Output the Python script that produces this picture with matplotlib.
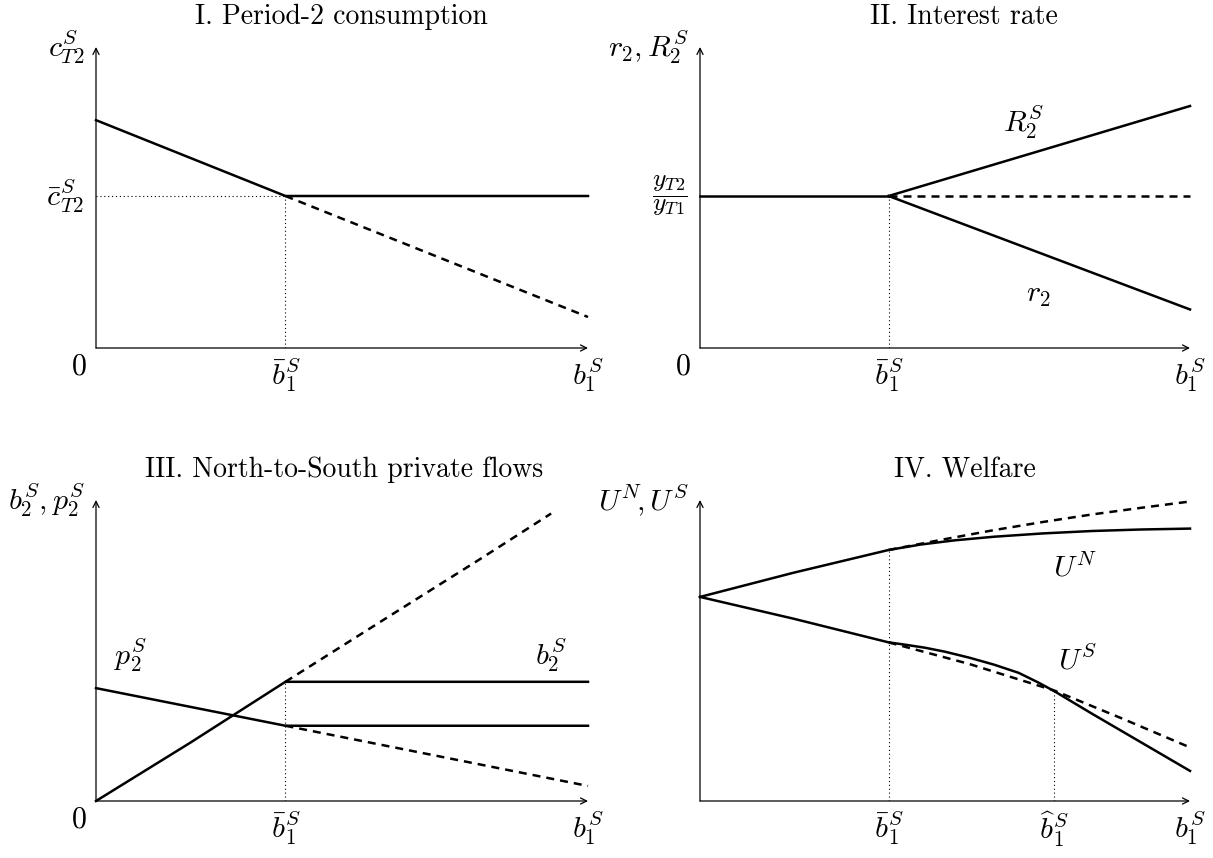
import matplotlib
matplotlib.use('Agg')
import matplotlib.pyplot as plt

plt.rcParams['mathtext.fontset'] = 'cm'
plt.rcParams['font.family'] = 'serif'
plt.rcParams['font.serif'] = ['cmr10']
plt.rcParams['axes.unicode_minus'] = False

# ---------------- data (fractions of axis length) ----------------
b1_bar = 0.385
b1_hat = 0.723

# Panel I: period-2 consumption
c_solid_x = [0.0, 0.385, 1.0]
c_solid_y = [0.757, 0.505, 0.505]
c_dash_x = [0.385, 1.0]
c_dash_y = [0.505, 0.103]
c_bar_level = 0.505

# Panel II: interest rate
rate_level = 0.505
flat_x = [0.0, 0.385]
flat_y = [0.505, 0.505]
R2_x = [0.385, 1.0]
R2_y = [0.505, 0.804]
r2_x = [0.385, 1.0]
r2_y = [0.505, 0.128]
level_dash_x = [0.385, 1.0]
level_dash_y = [0.505, 0.505]

# Panel III: private flows
b2_solid_x = [0.0, 0.19, 0.385, 1.0]
b2_solid_y = [0.0, 0.192, 0.396, 0.396]
b2_dash_x = [0.385, 0.6, 0.78, 0.925]
b2_dash_y = [0.396, 0.618, 0.803, 0.955]
p2_solid_x = [0.0, 0.385, 1.0]
p2_solid_y = [0.375, 0.25, 0.25]
p2_dash_x = [0.385, 1.0]
p2_dash_y = [0.25, 0.05]

# Panel IV: welfare
UN_solid_x = [0.0, 0.19, 0.385, 0.45, 0.52, 0.6, 0.7, 0.8, 0.9, 1.0]
UN_solid_y = [0.678, 0.758, 0.834, 0.852, 0.866, 0.878, 0.889, 0.897, 0.902, 0.905]
UN_dash_x = [0.385, 0.5, 0.6, 0.7, 0.8, 0.9, 1.0]
UN_dash_y = [0.834, 0.870, 0.900, 0.927, 0.952, 0.974, 0.995]
US_solid_x = [0.0, 0.19, 0.385, 0.42, 0.46, 0.5, 0.55, 0.6, 0.65, 0.69, 0.723, 0.8, 0.9, 1.0]
US_solid_y = [0.678, 0.606, 0.527, 0.519, 0.509, 0.496, 0.476, 0.453, 0.426, 0.394, 0.365, 0.290, 0.195, 0.100]
US_dash_x = [0.385, 0.55, 0.723, 0.86, 1.0]
US_dash_y = [0.527, 0.455, 0.367, 0.275, 0.178]

titles = ['I. Period-2 consumption', 'II. Interest rate',
          'III. North-to-South private flows', 'IV. Welfare']
ylabels = [r'$c^S_{T2}$', r'$r_2, R^S_2$', r'$b^S_2, p^S_2$', r'$U^N\!, U^S$']

# ---------------- figure ----------------
W, H = 1213, 858
fig = plt.figure(figsize=(W / 100, H / 100), dpi=100)

FS = 21.5
FT = 20
LW = 1.8
ALW = 0.9
DASH = (3.2, 2.4)
DOT = dict(color='black', lw=0.8, linestyle=(0, (1, 2.5)))


def make_ax(left, right, top, bottom):
    ax = fig.add_axes([left / W, 1 - bottom / H, (right - left) / W, (bottom - top) / H])
    ax.set_xlim(0, 1)
    ax.set_ylim(0, 1)
    ax.axis('off')
    ax.annotate('', xy=(1, 0), xytext=(0, 0),
                arrowprops=dict(arrowstyle='->', lw=ALW, shrinkA=0, shrinkB=0,
                                mutation_scale=11, color='black'))
    ax.annotate('', xy=(0, 1), xytext=(0, 0),
                arrowprops=dict(arrowstyle='->', lw=ALW, shrinkA=0, shrinkB=0,
                                mutation_scale=11, color='black'))
    return ax


def solid(ax, x, y):
    ax.plot(x, y, color='black', lw=LW, solid_joinstyle='round', clip_on=False)


def dashed(ax, x, y):
    ax.plot(x, y, color='black', lw=LW, dashes=DASH, clip_on=False)


def xlabel(ax, x, s):
    ax.annotate(s, xy=(x, 0), xytext=(0, -6), textcoords='offset points',
                ha='center', va='top', fontsize=FS)


def origin(ax):
    ax.annotate('0', xy=(0, 0), xytext=(-7, -4), textcoords='offset points',
                ha='right', va='top', fontsize=FS)


def ylab(ax, s):
    ax.annotate(s, xy=(0, 1), xytext=(-8, 0), textcoords='offset points',
                ha='right', va='center', fontsize=FS)


def title(ax, s, xc):
    ax.text(xc, 1.10, s, transform=ax.transAxes, ha='center', va='center', fontsize=FT)


panels = [
    (96, 588, 47, 348),
    (700, 1190, 47, 348),
    (96, 588, 500, 801),
    (700, 1190, 500, 801),
]
axs = [make_ax(*p) for p in panels]
title_x = [0.498, 0.539, 0.504, 0.541]
for ax, t, xc, yl in zip(axs, titles, title_x, ylabels):
    title(ax, t, xc)
    ylab(ax, yl)

# Panel I
ax = axs[0]
ax.plot([0, b1_bar], [c_bar_level, c_bar_level], **DOT)
ax.plot([b1_bar, b1_bar], [0, c_bar_level], **DOT)
solid(ax, c_solid_x, c_solid_y)
dashed(ax, c_dash_x, c_dash_y)
ax.annotate(r'$\bar{c}^S_{T2}$', xy=(0, c_bar_level), xytext=(-9, 0),
            textcoords='offset points', ha='right', va='center', fontsize=FS)
origin(ax)
xlabel(ax, b1_bar, r'$\bar{b}^S_1$')
xlabel(ax, 1.0, r'$b^S_1$')

# Panel II
ax = axs[1]
ax.plot([b1_bar, b1_bar], [0, rate_level], **DOT)
solid(ax, flat_x, flat_y)
solid(ax, R2_x, R2_y)
solid(ax, r2_x, r2_y)
dashed(ax, level_dash_x, level_dash_y)
ax.annotate(r'$\dfrac{y_{T2}}{y_{T1}}$', xy=(0, rate_level), xytext=(-9, 0),
            textcoords='offset points', ha='right', va='center', fontsize=FS - 3)
ax.text(0.66, 0.75, r'$R^S_2$', ha='center', va='center', fontsize=FS)
ax.text(0.69, 0.176, r'$r_2$', ha='center', va='center', fontsize=FS)
origin(ax)
xlabel(ax, b1_bar, r'$\bar{b}^S_1$')
xlabel(ax, 1.0, r'$b^S_1$')

# Panel III
ax = axs[2]
ax.plot([b1_bar, b1_bar], [0, b2_solid_y[2]], **DOT)
solid(ax, b2_solid_x, b2_solid_y)
dashed(ax, b2_dash_x, b2_dash_y)
solid(ax, p2_solid_x, p2_solid_y)
dashed(ax, p2_dash_x, p2_dash_y)
ax.text(0.07, 0.485, r'$p^S_2$', ha='center', va='center', fontsize=FS)
ax.text(0.925, 0.485, r'$b^S_2$', ha='center', va='center', fontsize=FS)
origin(ax)
xlabel(ax, b1_bar, r'$\bar{b}^S_1$')
xlabel(ax, 1.0, r'$b^S_1$')

# Panel IV
ax = axs[3]
ax.plot([b1_bar, b1_bar], [0, UN_solid_y[2]], **DOT)
ax.plot([b1_hat, b1_hat], [0, US_solid_y[10]], **DOT)
solid(ax, UN_solid_x, UN_solid_y)
dashed(ax, UN_dash_x, UN_dash_y)
solid(ax, US_solid_x, US_solid_y)
dashed(ax, US_dash_x, US_dash_y)
ax.text(0.765, 0.774, r'$U^N$', ha='center', va='center', fontsize=FS)
ax.text(0.77, 0.468, r'$U^S$', ha='center', va='center', fontsize=FS)
xlabel(ax, b1_bar, r'$\bar{b}^S_1$')
xlabel(ax, b1_hat, r'$\widehat{b}^S_1$')
xlabel(ax, 1.0, r'$b^S_1$')

fig.savefig('out.png', dpi=100)
